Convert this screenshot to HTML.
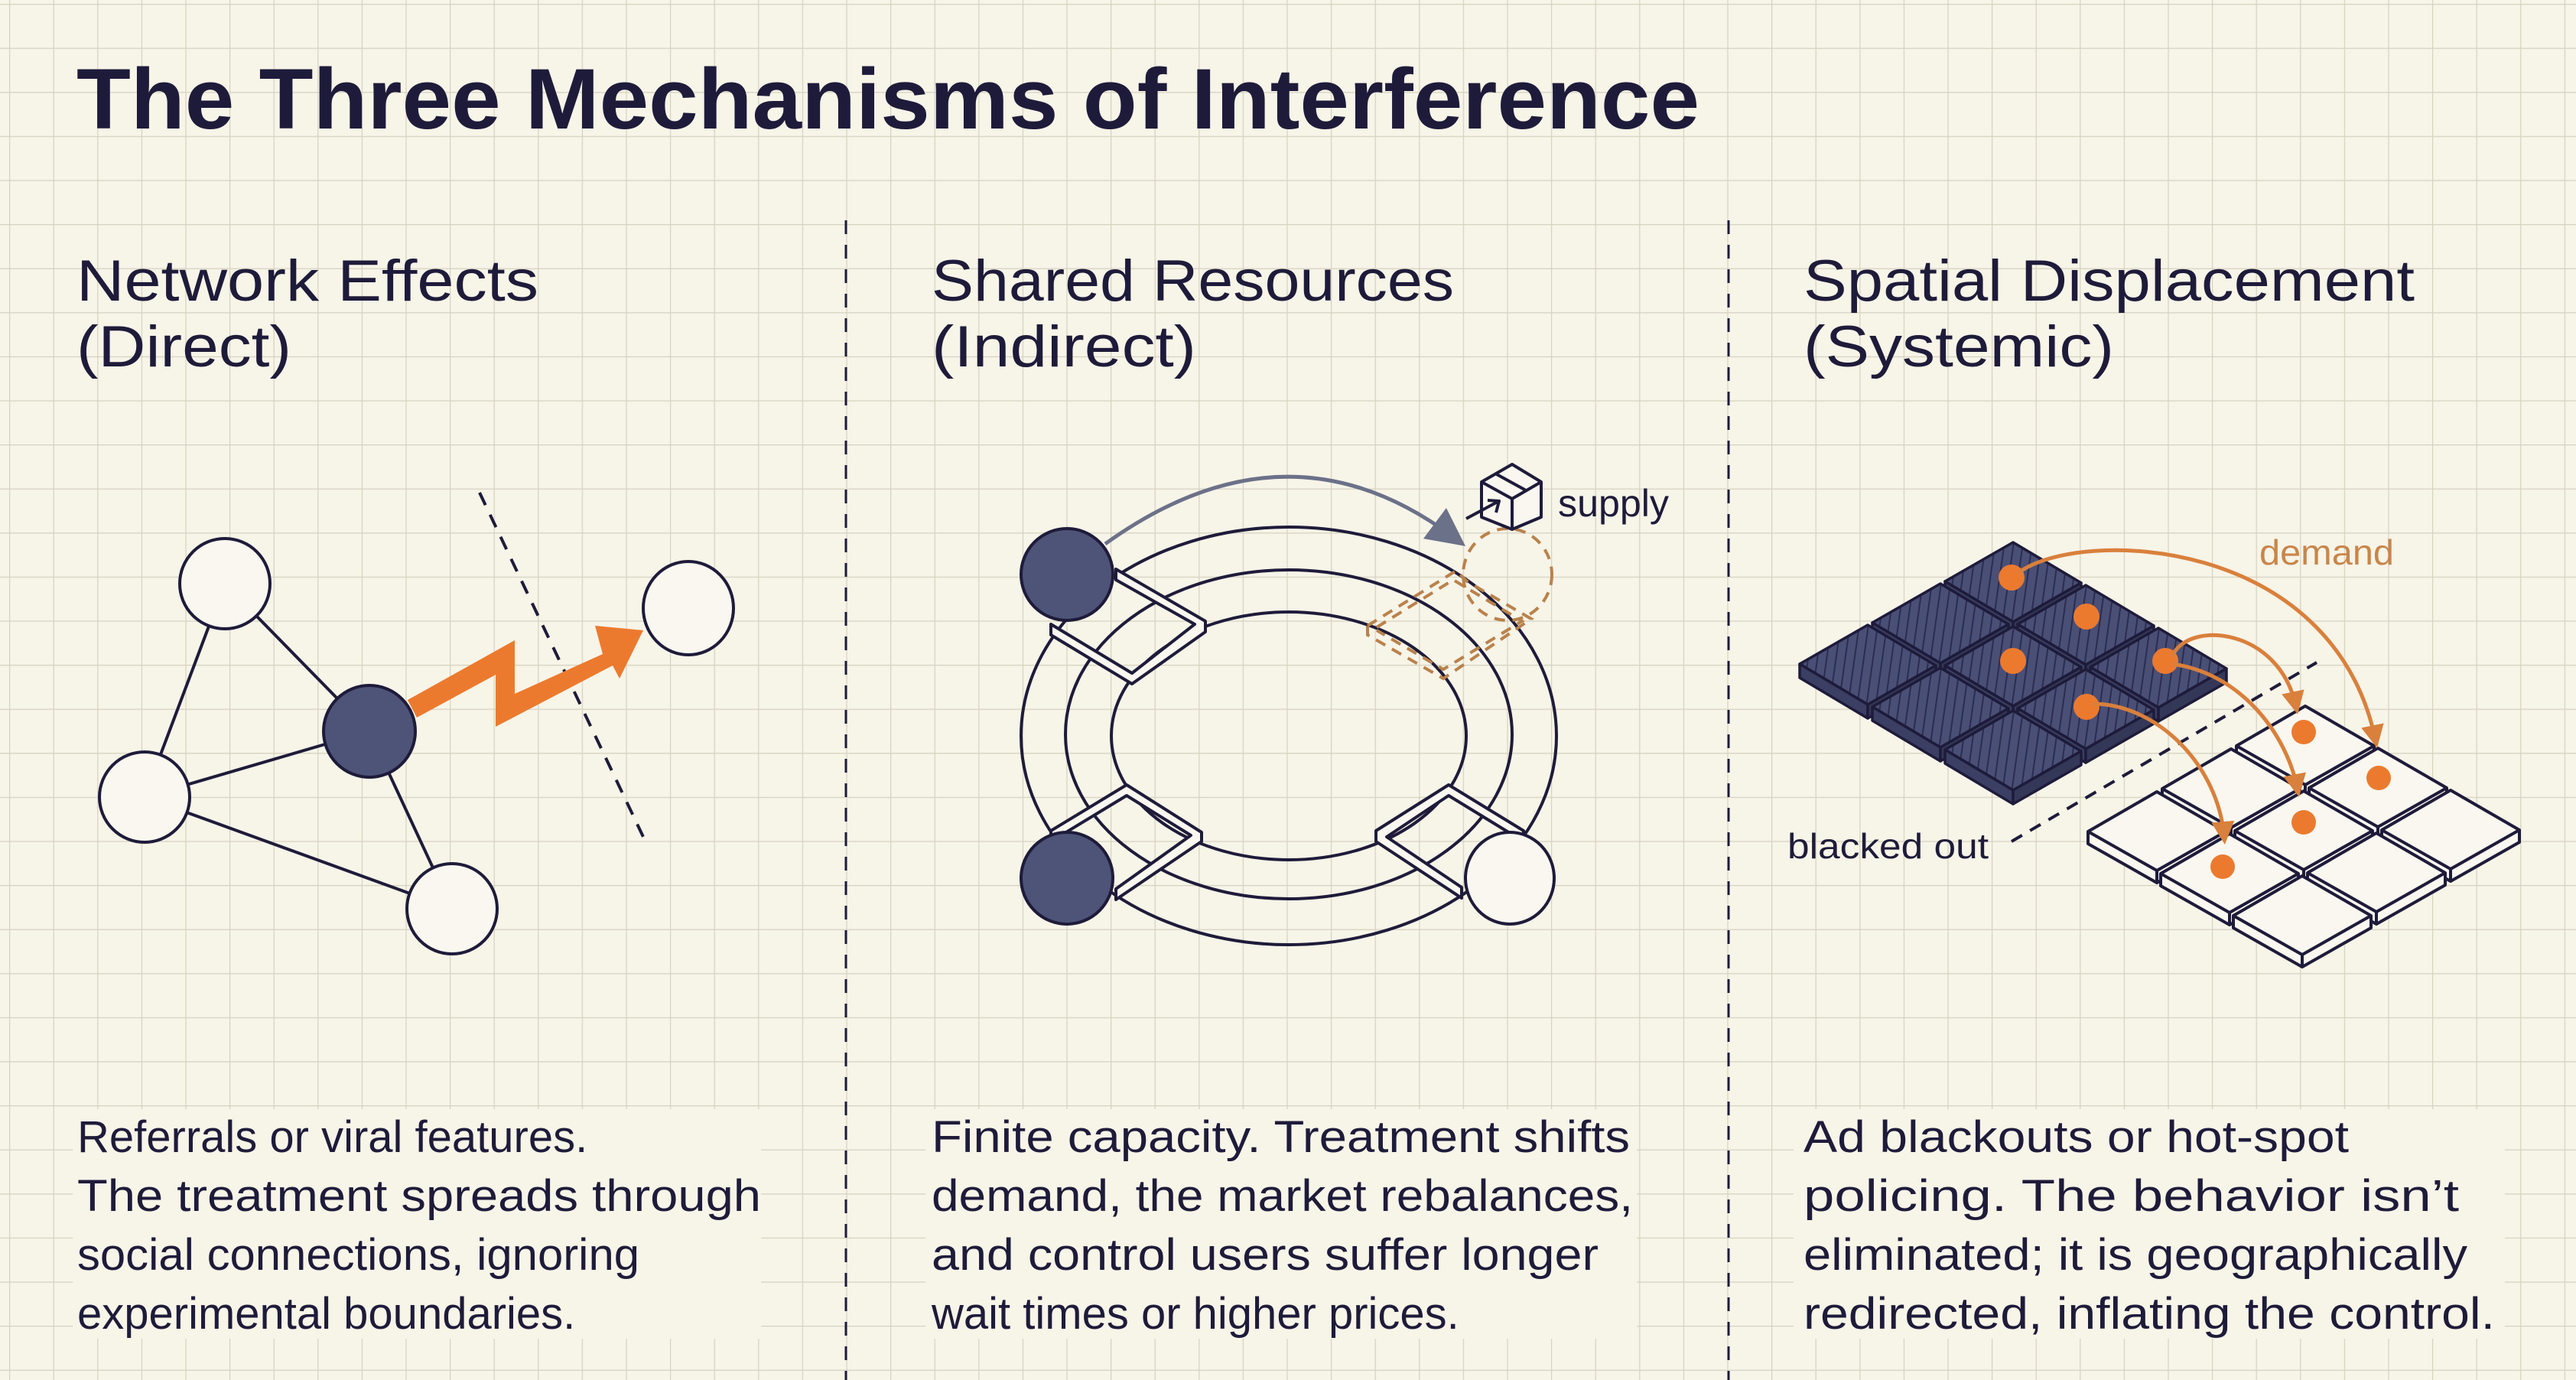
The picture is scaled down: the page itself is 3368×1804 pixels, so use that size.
<!DOCTYPE html>
<html><head><meta charset="utf-8"><style>
html,body{margin:0;padding:0;background:#f7f4e8;}
svg{display:block;}
text{font-family:"Liberation Sans",sans-serif;fill:#1e1b3a;}
</style></head><body>
<svg width="3368" height="1804" viewBox="0 0 3368 1804" xmlns="http://www.w3.org/2000/svg">
<defs>
<pattern id="grid" x="12" y="5" width="57.6" height="57.6" patternUnits="userSpaceOnUse">
<path d="M0 0 H57.6 M0 0 V57.6" stroke="#d6d2bf" stroke-width="2.4" fill="none"/>
</pattern>
<pattern id="hatch" width="12" height="12" patternUnits="userSpaceOnUse" patternTransform="rotate(8)">
<rect width="12" height="12" fill="#4a4f76"/>
<path d="M6 0 V12" stroke="#2a2d50" stroke-width="2"/>
</pattern>
<marker id="ga" markerWidth="10" markerHeight="10" refX="6" refY="5" orient="auto" markerUnits="strokeWidth">
<path d="M0 0 L10 5 L0 10 z" fill="#6b7188"/>
</marker>
<marker id="oa" markerWidth="6" markerHeight="6" refX="4" refY="3" orient="auto" markerUnits="strokeWidth">
<path d="M0 0 L6 3 L0 6 z" fill="#d9803c"/>
</marker>
</defs>
<rect width="3368" height="1804" fill="#f7f4e8"/>
<rect width="3368" height="1804" fill="url(#grid)"/>

<rect x="95" y="1450" width="900" height="300" fill="#f7f4e8"/>
<rect x="1210" y="1450" width="930" height="300" fill="#f7f4e8"/>
<rect x="2345" y="1450" width="930" height="300" fill="#f7f4e8"/>

<text x="100" y="168" font-size="112" font-weight="bold" textLength="2122" lengthAdjust="spacingAndGlyphs">The Three Mechanisms of Interference</text>

<line x1="1106" y1="288" x2="1106" y2="1804" stroke="#1e1b3a" stroke-width="3" stroke-dasharray="18 14"/>
<line x1="2260" y1="288" x2="2260" y2="1804" stroke="#1e1b3a" stroke-width="3" stroke-dasharray="18 14"/>

<g font-size="76">
<text x="100" y="393" textLength="604" lengthAdjust="spacingAndGlyphs">Network Effects</text>
<text x="100" y="479" textLength="281" lengthAdjust="spacingAndGlyphs">(Direct)</text>
<text x="1218" y="393" textLength="683" lengthAdjust="spacingAndGlyphs">Shared Resources</text>
<text x="1218" y="479" textLength="346" lengthAdjust="spacingAndGlyphs">(Indirect)</text>
<text x="2358" y="393" textLength="799" lengthAdjust="spacingAndGlyphs">Spatial Displacement</text>
<text x="2358" y="479" textLength="406" lengthAdjust="spacingAndGlyphs">(Systemic)</text>
</g>

<g font-size="58" style="fill:#111">
<text x="101" y="1506">Referrals or viral features.</text>
<text x="101" y="1583" textLength="894" lengthAdjust="spacingAndGlyphs">The treatment spreads through</text>
<text x="101" y="1660" textLength="735" lengthAdjust="spacingAndGlyphs">social connections, ignoring</text>
<text x="101" y="1737">experimental boundaries.</text>
<text x="1218" y="1506" textLength="913" lengthAdjust="spacingAndGlyphs">Finite capacity. Treatment shifts</text>
<text x="1218" y="1583" textLength="917" lengthAdjust="spacingAndGlyphs">demand, the market rebalances,</text>
<text x="1218" y="1660" textLength="872" lengthAdjust="spacingAndGlyphs">and control users suffer longer</text>
<text x="1218" y="1737">wait times or higher prices.</text>
<text x="2358" y="1506" textLength="713" lengthAdjust="spacingAndGlyphs">Ad blackouts or hot-spot</text>
<text x="2358" y="1583" textLength="857" lengthAdjust="spacingAndGlyphs">policing. The behavior isn’t</text>
<text x="2358" y="1660" textLength="868" lengthAdjust="spacingAndGlyphs">eliminated; it is geographically</text>
<text x="2358" y="1737" textLength="904" lengthAdjust="spacingAndGlyphs">redirected, inflating the control.</text>
</g>

<!-- Diagram 1 -->
<g stroke="#1e1b3a" stroke-width="4" fill="none">
<line x1="294" y1="763" x2="189" y2="1042"/>
<line x1="294" y1="763" x2="483" y2="956"/>
<line x1="189" y1="1042" x2="483" y2="956"/>
<line x1="189" y1="1042" x2="591" y2="1188"/>
<line x1="483" y1="956" x2="591" y2="1188"/>
</g>
<line x1="627" y1="644" x2="842" y2="1096" stroke="#1e1b3a" stroke-width="4" stroke-dasharray="18 14"/>
<g stroke="#1e1b3a" stroke-width="4">
<circle cx="294" cy="763" r="59" fill="#f9f7ef"/>
<circle cx="189" cy="1042" r="59" fill="#f9f7ef"/>
<circle cx="591" cy="1188" r="59" fill="#f9f7ef"/>
<ellipse cx="900" cy="795" rx="59" ry="61" fill="#f9f7ef"/>
<circle cx="483" cy="956" r="60" fill="#4d5478"/>
</g>
<polygon points="533,915 673,837 673,907 788,855 778,818 841,824 810,887 801,870 648,950 648,882 545,938" fill="#ec7a2e"/>

<!-- Diagram 2 -->
<g stroke="#1e1b3a" stroke-width="4" fill="none">
<ellipse cx="1685" cy="962" rx="350" ry="273"/>
<ellipse cx="1685" cy="960" rx="292" ry="215"/>
<ellipse cx="1685" cy="962" rx="232" ry="162"/>
</g>
<g stroke="#1e1b3a" stroke-width="4" fill="#f9f7ef" stroke-linejoin="round">
<polygon points="1459,744 1576,812 1576,826 1480,894 1374,830 1374,816 1480,880 1562,816 1459,758"/>
<polygon points="1374,1086 1473,1026 1571,1088 1571,1100 1459,1176 1459,1162 1557,1092 1473,1040 1374,1100"/>
<polygon points="1799,1086 1894,1026 1992,1086 1992,1100 1894,1040 1813,1094 1911,1160 1911,1174 1799,1100"/>
</g>
<g stroke="#1e1b3a" stroke-width="4" fill="#f9f7ef">
<ellipse cx="1395" cy="751" rx="60" ry="60" fill="#4d5478"/>
<ellipse cx="1395" cy="1148" rx="60" ry="60" fill="#4d5478"/>
<ellipse cx="1974" cy="1148" rx="58" ry="60"/>
</g>
<g stroke="#b9824c" stroke-width="4" fill="none" stroke-dasharray="14 10">
<ellipse cx="1971" cy="751" rx="58" ry="60"/>
<polygon points="1788,818 1904,746 1918,760 2002,809 1887,887 1788,830"/>
<polyline points="1800,820 1900,758 1990,812 1887,875 1800,824"/>
</g>
<path d="M1445 711 Q1683 540 1900 702" stroke="#6b7188" stroke-width="5" fill="none" marker-end="url(#ga)"/>
<g stroke="#1e1b3a" stroke-width="4" fill="#f9f7ef" stroke-linejoin="round">
<polygon points="1977,607 2015,630 2015,676 1977,692 1937,676 1937,630"/>
<polyline points="1937,630 1977,652 2015,630" fill="none"/>
<line x1="1977" y1="652" x2="1977" y2="692"/>
<line x1="1955" y1="619" x2="1995" y2="641"/>
<line x1="1917" y1="678" x2="1958" y2="656"/>
<polyline points="1945,654 1960,655 1956,670" fill="none"/>
</g>
<text x="2037" y="675" font-size="50" textLength="145" lengthAdjust="spacingAndGlyphs">supply</text>

<!-- Diagram 3 -->
<line x1="2630" y1="1100" x2="3029" y2="866" stroke="#1e1b3a" stroke-width="4" stroke-dasharray="16 12"/>
<g stroke="#1e1b3a" stroke-width="3.5" stroke-linejoin="round">
<g id="dt">
<polygon points="2632,709 2721,762 2632,813 2543,760" fill="url(#hatch)"/>
<polygon points="2543,760 2632,813 2632,831 2543,778" fill="#3a3f63"/>
<polygon points="2632,813 2721,762 2721,780 2632,831" fill="#343858"/>
</g>
<use href="#dt" x="95" y="56"/>
<use href="#dt" x="-95" y="54"/>
<use href="#dt" x="190" y="112"/>
<use href="#dt" x="0" y="110"/>
<use href="#dt" x="-190" y="108"/>
<use href="#dt" x="95" y="166"/>
<use href="#dt" x="-95" y="164"/>
<use href="#dt" x="0" y="220"/>
</g>
<g stroke="#1e1b3a" stroke-width="4" fill="#f9f7ef" stroke-linejoin="round">
<g id="wt">
<polygon points="3014,923 3104,975 3104,991 3014,1042 2924,991 2924,975"/>
<polyline points="2924,975 3014,1026 3104,975" fill="none"/>
<line x1="3014" y1="1026" x2="3014" y2="1042"/>
</g>
<use href="#wt" x="95" y="55"/>
<use href="#wt" x="-97" y="56"/>
<use href="#wt" x="190" y="110"/>
<use href="#wt" x="-2" y="111"/>
<use href="#wt" x="-194" y="112"/>
<use href="#wt" x="93" y="166"/>
<use href="#wt" x="-99" y="167"/>
<use href="#wt" x="-4" y="222"/>
</g>
<g fill="#ec7a2e">
<circle cx="2630" cy="755" r="17"/>
<circle cx="2728" cy="806" r="17"/>
<circle cx="2632" cy="864" r="17"/>
<circle cx="2831" cy="864" r="17"/>
<circle cx="2728" cy="924" r="17"/>
<circle cx="3012" cy="957" r="16"/>
<circle cx="3110" cy="1017" r="16"/>
<circle cx="3012" cy="1075" r="16"/>
<circle cx="2906" cy="1133" r="16"/>
</g>
<g stroke="#d9803c" stroke-width="5" fill="none">
<path d="M2640 748 C2720 690 3050 700 3106 968" marker-end="url(#oa)"/>
<path d="M2840 858 C2860 810 2980 820 3002 924" marker-end="url(#oa)"/>
<path d="M2840 868 C2930 880 2990 960 3004 1032" marker-end="url(#oa)"/>
<path d="M2736 920 C2820 920 2900 1000 2908 1094" marker-end="url(#oa)"/>
</g>
<text x="2954" y="738" font-size="46" style="fill:#c8864a" textLength="176" lengthAdjust="spacingAndGlyphs">demand</text>
<text x="2337" y="1122" font-size="46" textLength="263" lengthAdjust="spacingAndGlyphs">blacked out</text>
</svg>
</body></html>
